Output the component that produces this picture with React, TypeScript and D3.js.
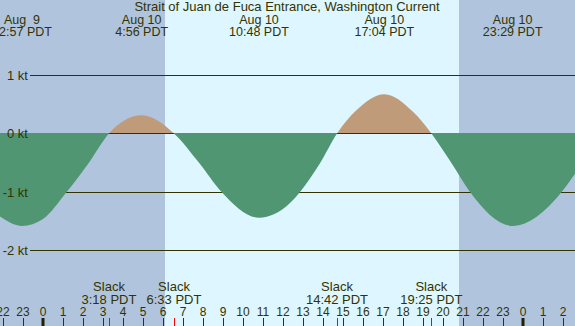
import React from "react";
import * as d3 from "d3";

const W = 575;
const H = 326;

// current speed samples, hours from Aug 10 00:00 PDT (negative = Aug 9)
const sampleHours = [
  -2.15, -1.05, 0, 1.18, 2.25, 3.3, 4.93, 6.55, 7.8, 8.93, 10.8, 12.35, 12.85,
  13.85, 14.7, 15.68, 17.07, 18.5, 19.42, 20.43, 21.35, 23.48, 25.93, 26.6,
];
const sampleKnots = [
  -1.42, -1.58, -1.46, -1.0, -0.52, 0, 0.31, 0, -0.5, -1.0, -1.44, -1.19, -1.0,
  -0.51, 0, 0.4, 0.67, 0.37, 0, -0.51, -1.0, -1.58, -1.0, -0.69,
];

// max flood / ebb events
const peakDays = ["Aug  9", "Aug 10", "Aug 10", "Aug 10", "Aug 10"];
const peakTimes = ["22:57", "4:56", "10:48", "17:04", "23:29"];

// slack water events (all Aug 10)
const slackTimes = ["3:18", "6:33", "14:42", "19:25"];

// daylight
const sunrise = "6:06";
const sunset = "20:48";

const knotTicks = [1, 0, -1, -2];
const hourTicks = d3.range(-2, 27);

const title = "Strait of Juan de Fuca Entrance, Washington Current";

const toHours = (t: string, day = "Aug 10") => {
  const [hh, mm] = t.split(":").map(Number);
  return hh + mm / 60 + (day.trim().endsWith("9") ? -24 : 0);
};

const NIGHT = "#b0c4de";
const DAY = "#ddf6ff";
const EBB = "#509672";
const FLOOD = "#bf9b7a";
const INK = "#333300";
const FONT = "'Liberation Sans', Arial, sans-serif";

export default function App() {
  const x = d3.scaleLinear().domain([-2.15, 26.6]).range([0, W]);
  const y = d3.scaleLinear().domain([-2, 1]).range([250.5, 75]);
  const zeroY = Math.floor(y(0));

  const pts = sampleHours.map((h, i) => [h, sampleKnots[i]] as [number, number]);
  const area = d3
    .area<[number, number]>()
    .x((d) => x(d[0]))
    .y0(zeroY)
    .y1((d) => y(d[1]))
    .curve(d3.curveMonotoneX);
  const path = area(pts) || "";

  const tStart = x.domain()[0];
  const tEnd = x.domain()[1];

  return (
    <div style={{ position: "absolute", left: 0, top: 0 }}>
      <svg width={W} height={H} style={{ display: "block", fontFamily: FONT }}>
        <defs>
          <clipPath id="above">
            <rect x={0} y={0} width={W} height={zeroY} />
          </clipPath>
          <clipPath id="below">
            <rect x={0} y={zeroY} width={W} height={H - zeroY} />
          </clipPath>
        </defs>

        {/* night / day background */}
        <rect x={0} y={0} width={W} height={H} fill={DAY} />
        <rect x={x(tStart)} y={0} width={x(toHours(sunrise)) - x(tStart)} height={H} fill={NIGHT} />
        <rect x={x(toHours(sunset))} y={0} width={x(tEnd) - x(toHours(sunset))} height={H} fill={NIGHT} />

        {/* knot grid */}
        {knotTicks.map((k) => (
          <line key={k} x1={30} x2={W} y1={Math.floor(y(k)) + 0.5} y2={Math.floor(y(k)) + 0.5} stroke={INK} strokeWidth={1} />
        ))}

        {/* flood above zero, ebb below */}
        <path d={path} fill={FLOOD} clipPath="url(#above)" />
        <path d={path} fill={EBB} clipPath="url(#below)" />

        {knotTicks.map((k) => (
          <text key={k} x={28} y={y(k) + 4.5} textAnchor="end" fontSize={13} fill={INK}>
            {`${k} kt`}
          </text>
        ))}

        {/* header */}
        <text x={287} y={11} textAnchor="middle" fontSize={13} fill={INK}>
          {title}
        </text>
        {peakTimes.map((t, i) => {
          const cx = x(toHours(t, peakDays[i]));
          return (
            <g key={t} fill={INK} fontSize={12.5} textAnchor="middle">
              <text x={cx} y={23.5} style={{ whiteSpace: "pre" }}>
                {peakDays[i]}
              </text>
              <text x={cx} y={36}>{`${t} PDT`}</text>
            </g>
          );
        })}

        {/* slack labels */}
        {slackTimes.map((t) => {
          const cx = x(toHours(t));
          return (
            <g key={t} fill={INK} fontSize={13} textAnchor="middle">
              <text x={cx} y={291}>Slack</text>
              <text x={cx} y={304}>{`${t} PDT`}</text>
              <line x1={Math.round(cx) + 0.5} x2={Math.round(cx) + 0.5} y1={318} y2={H} stroke="#ff0000" strokeWidth={1} />
            </g>
          );
        })}

        {/* hour axis */}
        {hourTicks.map((h) => {
          const hx = Math.round(x(h));
          const midnight = h % 24 === 0;
          return (
            <g key={h}>
              <text x={hx} y={316} textAnchor="middle" fontSize={12} fill={INK}>
                {((h % 24) + 24) % 24}
              </text>
              <line
                x1={midnight ? hx : hx + 0.5}
                x2={midnight ? hx : hx + 0.5}
                y1={318}
                y2={H}
                stroke={midnight ? "#222200" : INK}
                strokeWidth={midnight ? 3 : 1}
              />
            </g>
          );
        })}
      </svg>
    </div>
  );
}
